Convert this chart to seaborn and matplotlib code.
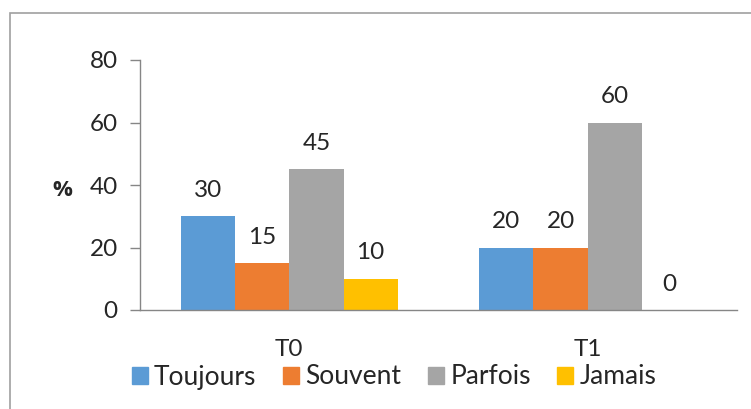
import matplotlib
matplotlib.use("Agg")
import matplotlib.pyplot as plt
import matplotlib.patches as mpatches
import pandas as pd
import seaborn as sns

times = ["T0", "T1"]
answers = ["Toujours", "Souvent", "Parfois", "Jamais"]
toujours = [30, 20]
souvent = [15, 20]
parfois = [45, 60]
jamais = [10, 0]
colors = ["#5B9BD5", "#ED7D31", "#A5A5A5", "#FFC000"]

df = pd.DataFrame({
    "time": times * 4,
    "answer": [a for a in answers for _ in times],
    "value": toujours + souvent + parfois + jamais,
})

sns.set_style("white")
plt.rcParams["font.family"] = ["Lato", "DejaVu Sans"]

W, H = 751, 409
fig = plt.figure(figsize=(W / 100, H / 100), dpi=100)
ax = fig.add_axes([140 / W, 1 - 310 / H, (737 - 140) / W, 250 / H])

sns.barplot(data=df, x="time", y="value", hue="answer", hue_order=answers,
            palette=colors, width=0.727, gap=0, saturation=1, ax=ax,
            legend=False, linewidth=0)

for cont in ax.containers:
    ax.bar_label(cont, fmt="%g", padding=11, fontsize=17.5)

ax.set_ylim(0, 80)
ax.set_xlim(-0.5, 1.5)
ax.set_yticks([0, 20, 40, 60, 80])
ax.tick_params(axis="y", labelsize=17.5, length=7, width=1, color="#868686",
               left=True, pad=9)
ax.tick_params(axis="x", labelsize=17.5, length=0, pad=21)
ax.set_xlabel("")
ax.set_ylabel("%", rotation=0, fontsize=16, fontweight="bold",
              family="Open Sans", va="center", ha="center")
ax.yaxis.set_label_coords(-0.13, 0.48)
for s in ["top", "right"]:
    ax.spines[s].set_visible(False)
for s in ["left", "bottom"]:
    ax.spines[s].set_color("#868686")
    ax.spines[s].set_linewidth(1)

handles = [mpatches.Patch(color=c, label=a) for c, a in zip(colors, answers)]
fig.legend(handles=handles, loc="center", bbox_to_anchor=(394 / W, 1 - 377 / H),
           ncol=4, frameon=False, fontsize=19, handlelength=0.6,
           handleheight=0.6, handletextpad=0.25, columnspacing=1.0)

border = mpatches.Rectangle((10 / W, -0.1), 1.2, 1 - 13 / H + 0.1,
                            transform=fig.transFigure, fill=False,
                            edgecolor="#A0A0A0", linewidth=1.2)
fig.patches.append(border)

fig.savefig("out.png", dpi=100)
